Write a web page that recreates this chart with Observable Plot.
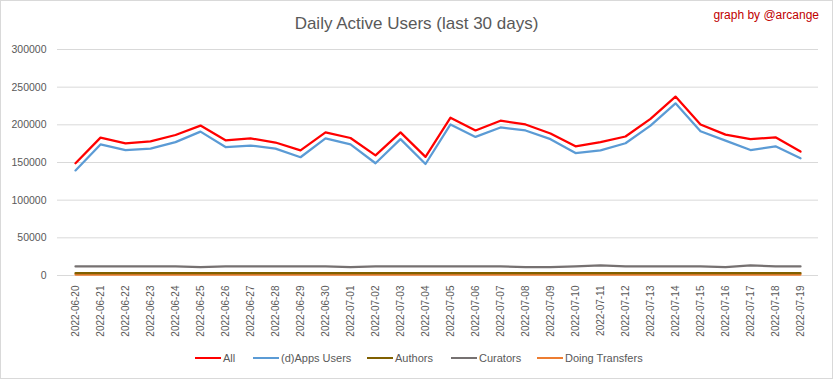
<!DOCTYPE html>
<html>
<head>
<meta charset="utf-8">
<script src="https://cdn.jsdelivr.net/npm/d3@7"></script>
<script src="https://cdn.jsdelivr.net/npm/@observablehq/plot@0.6"></script>
<style>
  html, body { margin: 0; padding: 0; background: #fff; }
  #wrap { position: relative; width: 833px; height: 379px; overflow: hidden; background: #fff; font-family: "Liberation Sans", Arial, sans-serif; }
  #frame { position: absolute; left: 0; top: 0; width: 831px; height: 377px; border: 1px solid #d9d9d9; pointer-events: none; }
  #title { position: absolute; left: 0; width: 833px; top: 13px; text-align: center; font-size: 17px; color: #595959; line-height: 22px; }
  #credit { position: absolute; right: 14px; top: 8px; font-size: 12px; color: #c00000; line-height: 15px; }
  #chart { position: absolute; left: 0; top: 0; }
  #legend { position: absolute; left: 0; top: 350px; width: 833px; height: 16px; font-size: 11px; color: #595959; line-height: 16px; }
  .item { position: absolute; top: 0; display: flex; align-items: center; white-space: nowrap; }
  .sw { width: 26px; height: 2px; margin-right: 2px; }
</style>
</head>
<body>
<div id="wrap">
  <div id="chart"></div>
  <div id="title">Daily Active Users (last 30 days)</div>
  <div id="credit">graph by @arcange</div>
  <div id="legend"></div>
  <div id="frame"></div>
</div>
<script>
const dates = ["2022-06-20","2022-06-21","2022-06-22","2022-06-23","2022-06-24","2022-06-25","2022-06-26","2022-06-27","2022-06-28","2022-06-29","2022-06-30","2022-07-01","2022-07-02","2022-07-03","2022-07-04","2022-07-05","2022-07-06","2022-07-07","2022-07-08","2022-07-09","2022-07-10","2022-07-11","2022-07-12","2022-07-13","2022-07-14","2022-07-15","2022-07-16","2022-07-17","2022-07-18","2022-07-19"];
const allUsers = [149000,183000,175500,178000,186500,199000,179500,182000,176500,166000,190000,182500,159500,190000,157500,209500,192500,205500,200500,188500,171500,177000,184500,208000,237500,200500,187000,181000,183500,164500];
const appsUsers = [139500,174000,166500,168500,177000,191000,170500,172500,168500,157000,182000,174000,149000,181000,148000,200500,184000,196500,192500,181000,162500,166000,175500,199000,228500,191500,179000,166500,171500,155500];
const authors = [3000,3000,3000,3000,3000,3000,3000,3000,3000,3000,3000,3000,3000,3000,3000,3000,3000,3000,3000,3000,3000,3000,3000,3000,3000,3000,3000,3000,3000,3000];
const curators = [12000,12000,12000,12000,12000,11000,12000,12000,12000,12000,12000,11000,12000,12000,12000,12000,12000,12000,11000,11000,12000,13500,12000,12000,12000,12000,11000,13500,12000,12000];
const transfers = [1200,1200,1200,1200,1200,1200,1200,1200,1200,1200,1200,1200,1200,1200,1200,1200,1200,1200,1200,1200,1200,1200,1200,1200,1200,1200,1200,1200,1200,1200];
const seriesNames = ["All","(d)Apps Users","Authors","Curators","Doing Transfers"];
const seriesColors = ["#ff0000","#5b9bd5","#806000","#767171","#ed7d31"];
const yTicks = [0,50000,100000,150000,200000,250000,300000];

const seriesValues = [allUsers, appsUsers, authors, curators, transfers];
const rows = seriesNames.flatMap((name, s) => dates.map((d, i) => ({date: d, series: name, value: seriesValues[s][i]})));
const drawOrder = ["Doing Transfers","Authors","Curators","(d)Apps Users","All"];
const ordered = drawOrder.flatMap(n => rows.filter(r => r.series === n));

const chart = Plot.plot({
  width: 833,
  height: 350,
  marginTop: 49,
  marginBottom: 75,
  marginLeft: 57,
  marginRight: 15,
  style: {fontFamily: '"Liberation Sans", Arial, sans-serif', fontSize: "10.5px", color: "#595959", background: "transparent"},
  x: {type: "point", domain: dates, padding: 0.5, label: null},
  y: {domain: [0, 300000], label: null},
  color: {domain: seriesNames, range: seriesColors},
  marks: [
    Plot.gridY(yTicks, {stroke: "#d9d9d9", strokeOpacity: 1}),
    Plot.axisY(yTicks, {tickSize: 0, tickPadding: 11, tickFormat: d => String(d), label: null, fontSize: 10.5}),
    Plot.axisX({tickSize: 0, tickPadding: 10, tickRotate: -90, label: null, fontSize: 10}),
    Plot.lineY(ordered, {x: "date", y: "value", z: "series", stroke: "series", strokeWidth: 2.25, curve: "linear"})
  ]
});
document.getElementById("chart").appendChild(chart);

const legendX = [195, 253, 367, 451, 537];
const legend = document.getElementById("legend");
seriesNames.forEach((n, i) => {
  const it = document.createElement("div");
  it.className = "item";
  it.style.left = legendX[i] + "px";
  const sw = document.createElement("div");
  sw.className = "sw";
  sw.style.background = seriesColors[i];
  const tx = document.createElement("span");
  tx.textContent = n;
  it.appendChild(sw);
  it.appendChild(tx);
  legend.appendChild(it);
});
</script>
</body>
</html>
